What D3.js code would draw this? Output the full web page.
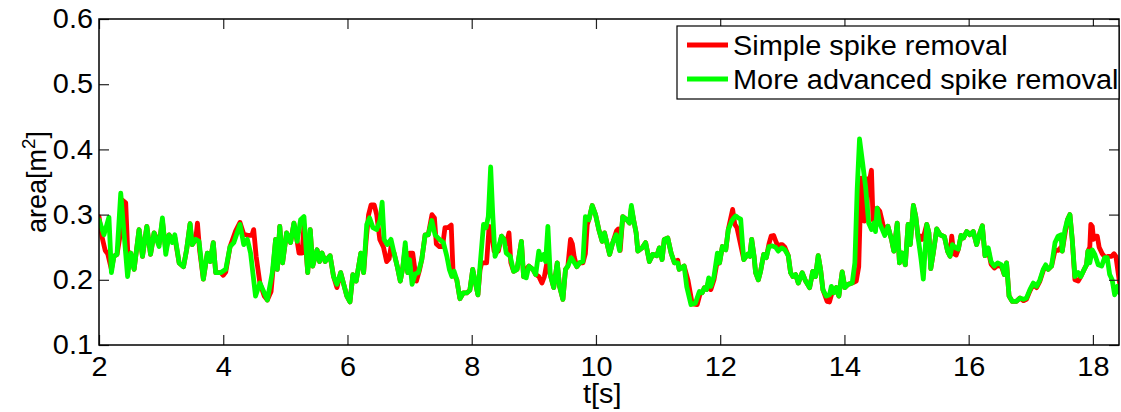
<!DOCTYPE html>
<html><head><meta charset="utf-8">
<script src="https://cdn.jsdelivr.net/npm/d3@7/dist/d3.min.js"></script>
<style>
html,body{margin:0;padding:0;background:#fff;}
svg{display:block;font-family:"Liberation Sans",Arial,Helvetica,sans-serif;}
</style></head>
<body>
<svg id="chart" width="1121" height="412"></svg>
<script>
// ---- data ----
const seriesNames = ["Simple spike removal", "More advanced spike removal"];
const seriesColors = ["#ff0000", "#00ff00"];
const xTicks = [2, 4, 6, 8, 10, 12, 14, 16, 18];
const yTicks = [0.1, 0.2, 0.3, 0.4, 0.5, 0.6];
const xLabel = "t[s]";
const yLabel = "area[m";
const yLabelSup = "2";

// Simple spike removal: [t (s), area (m^2)]
const simpleSeries = [[2.00,0.297],[2.05,0.265],[2.10,0.245],[2.14,0.240],[2.20,0.216],[2.24,0.236],[2.29,0.239],[2.33,0.262],[2.38,0.322],[2.43,0.318],[2.47,0.226],[2.51,0.241],[2.565,0.216],[2.645,0.277],[2.70,0.236],[2.77,0.282],[2.83,0.239],[2.887,0.272],[2.967,0.255],[3.021,0.290],[3.075,0.245],[3.128,0.269],[3.18,0.262],[3.22,0.265],[3.29,0.226],[3.36,0.220],[3.41,0.246],[3.466,0.286],[3.50,0.254],[3.557,0.262],[3.585,0.287],[3.62,0.245],[3.68,0.201],[3.744,0.241],[3.79,0.228],[3.84,0.257],[3.878,0.211],[3.96,0.211],[4.00,0.207],[4.04,0.212],[4.11,0.251],[4.20,0.275],[4.27,0.288],[4.33,0.270],[4.40,0.268],[4.46,0.268],[4.49,0.277],[4.53,0.236],[4.59,0.195],[4.66,0.175],[4.71,0.169],[4.77,0.182],[4.81,0.225],[4.843,0.262],[4.87,0.216],[4.91,0.282],[4.955,0.226],[5.02,0.272],[5.084,0.257],[5.138,0.287],[5.19,0.259],[5.22,0.241],[5.27,0.241],[5.30,0.285],[5.36,0.211],[5.40,0.277],[5.44,0.221],[5.51,0.246],[5.55,0.228],[5.59,0.241],[5.64,0.228],[5.72,0.237],[5.776,0.205],[5.83,0.188],[5.89,0.211],[5.94,0.193],[5.99,0.175],[6.04,0.166],[6.087,0.208],[6.14,0.198],[6.215,0.241],[6.26,0.211],[6.30,0.260],[6.34,0.300],[6.38,0.315],[6.43,0.315],[6.47,0.300],[6.52,0.262],[6.58,0.250],[6.63,0.228],[6.67,0.232],[6.70,0.250],[6.75,0.241],[6.80,0.221],[6.85,0.198],[6.89,0.218],[6.93,0.250],[6.97,0.211],[7.00,0.241],[7.05,0.241],[7.11,0.198],[7.16,0.215],[7.196,0.231],[7.25,0.269],[7.30,0.269],[7.36,0.300],[7.40,0.295],[7.43,0.255],[7.48,0.251],[7.53,0.251],[7.57,0.280],[7.62,0.280],[7.67,0.284],[7.70,0.211],[7.76,0.200],[7.81,0.171],[7.866,0.180],[7.92,0.180],[7.97,0.184],[8.016,0.216],[8.06,0.195],[8.10,0.177],[8.134,0.215],[8.16,0.226],[8.24,0.226],[8.28,0.282],[8.31,0.280],[8.36,0.244],[8.43,0.244],[8.48,0.267],[8.52,0.262],[8.556,0.255],[8.60,0.272],[8.63,0.226],[8.674,0.213],[8.73,0.216],[8.80,0.259],[8.835,0.205],[8.878,0.216],[8.92,0.221],[8.985,0.216],[9.03,0.208],[9.08,0.205],[9.13,0.195],[9.17,0.205],[9.21,0.226],[9.264,0.208],[9.32,0.188],[9.377,0.226],[9.414,0.190],[9.468,0.170],[9.51,0.216],[9.548,0.221],[9.59,0.262],[9.62,0.255],[9.65,0.235],[9.693,0.220],[9.736,0.226],[9.79,0.226],[9.83,0.240],[9.86,0.285],[9.886,0.292],[9.94,0.314],[9.993,0.300],[10.046,0.277],[10.10,0.259],[10.137,0.272],[10.22,0.239],[10.27,0.257],[10.33,0.275],[10.36,0.278],[10.39,0.245],[10.432,0.297],[10.497,0.292],[10.54,0.287],[10.57,0.310],[10.61,0.290],[10.647,0.272],[10.674,0.244],[10.743,0.249],[10.80,0.257],[10.86,0.228],[10.915,0.239],[10.98,0.237],[11.02,0.249],[11.065,0.231],[11.10,0.262],[11.156,0.264],[11.21,0.241],[11.263,0.226],[11.317,0.230],[11.34,0.216],[11.42,0.221],[11.48,0.200],[11.55,0.163],[11.63,0.162],[11.68,0.180],[11.71,0.180],[11.745,0.188],[11.78,0.185],[11.815,0.198],[11.85,0.185],[11.90,0.200],[11.955,0.230],[11.99,0.226],[12.035,0.251],[12.09,0.246],[12.13,0.277],[12.20,0.308],[12.235,0.285],[12.27,0.280],[12.31,0.262],[12.36,0.240],[12.38,0.231],[12.44,0.239],[12.475,0.236],[12.507,0.262],[12.545,0.236],[12.57,0.211],[12.614,0.200],[12.65,0.213],[12.70,0.239],[12.742,0.234],[12.785,0.255],[12.82,0.267],[12.86,0.268],[12.90,0.258],[12.935,0.250],[12.97,0.254],[13.00,0.254],[13.04,0.250],[13.096,0.237],[13.133,0.211],[13.17,0.205],[13.214,0.208],[13.257,0.195],[13.32,0.211],[13.375,0.198],[13.44,0.188],[13.49,0.213],[13.535,0.205],[13.578,0.237],[13.616,0.216],[13.653,0.185],[13.72,0.167],[13.76,0.166],[13.80,0.180],[13.83,0.180],[13.87,0.188],[13.91,0.175],[13.964,0.212],[14.007,0.188],[14.06,0.193],[14.125,0.195],[14.19,0.198],[14.23,0.220],[14.27,0.356],[14.29,0.350],[14.32,0.290],[14.36,0.296],[14.38,0.355],[14.41,0.355],[14.435,0.368],[14.46,0.292],[14.50,0.285],[14.527,0.310],[14.57,0.305],[14.62,0.285],[14.65,0.275],[14.70,0.282],[14.757,0.262],[14.795,0.244],[14.85,0.287],[14.886,0.226],[14.93,0.241],[14.98,0.223],[15.025,0.285],[15.06,0.254],[15.11,0.314],[15.148,0.297],[15.19,0.262],[15.22,0.267],[15.25,0.262],[15.29,0.272],[15.325,0.285],[15.36,0.272],[15.39,0.217],[15.43,0.241],[15.486,0.278],[15.54,0.269],[15.61,0.266],[15.66,0.244],[15.70,0.236],[15.727,0.267],[15.76,0.240],[15.80,0.238],[15.834,0.247],[15.877,0.268],[15.914,0.264],[15.968,0.274],[16.02,0.269],[16.075,0.274],[16.128,0.254],[16.18,0.272],[16.22,0.283],[16.263,0.237],[16.316,0.245],[16.36,0.224],[16.413,0.218],[16.466,0.222],[16.53,0.220],[16.574,0.208],[16.61,0.226],[16.65,0.175],[16.70,0.167],[16.77,0.167],[16.825,0.172],[16.88,0.168],[16.93,0.170],[16.986,0.183],[17.04,0.193],[17.093,0.188],[17.147,0.198],[17.20,0.214],[17.24,0.221],[17.28,0.216],[17.334,0.221],[17.39,0.245],[17.44,0.245],[17.485,0.250],[17.506,0.244],[17.55,0.270],[17.59,0.292],[17.63,0.300],[17.667,0.262],[17.71,0.200],[17.763,0.198],[17.806,0.205],[17.86,0.216],[17.897,0.223],[17.92,0.244],[17.95,0.250],[17.966,0.285],[17.99,0.282],[18.01,0.262],[18.04,0.267],[18.07,0.267],[18.10,0.250],[18.15,0.240],[18.20,0.234],[18.25,0.236],[18.30,0.236],[18.34,0.240],[18.37,0.236],[18.40,0.215],[18.43,0.195]];

// More advanced spike removal: [t (s), area (m^2)]
const advancedSeries = [[2.00,0.292],[2.08,0.269],[2.16,0.296],[2.20,0.211],[2.24,0.236],[2.29,0.239],[2.35,0.333],[2.46,0.205],[2.51,0.241],[2.565,0.216],[2.645,0.277],[2.70,0.236],[2.77,0.282],[2.83,0.239],[2.887,0.272],[2.967,0.251],[3.021,0.295],[3.075,0.239],[3.128,0.269],[3.18,0.257],[3.22,0.269],[3.29,0.226],[3.36,0.220],[3.41,0.246],[3.466,0.286],[3.50,0.254],[3.557,0.262],[3.61,0.259],[3.68,0.201],[3.744,0.241],[3.79,0.228],[3.84,0.257],[3.878,0.211],[3.96,0.211],[4.04,0.216],[4.11,0.251],[4.17,0.257],[4.27,0.285],[4.33,0.254],[4.388,0.262],[4.44,0.241],[4.52,0.175],[4.59,0.195],[4.71,0.169],[4.79,0.211],[4.843,0.262],[4.87,0.216],[4.91,0.282],[4.955,0.226],[5.02,0.272],[5.084,0.257],[5.138,0.287],[5.19,0.259],[5.245,0.292],[5.30,0.297],[5.36,0.211],[5.40,0.277],[5.44,0.221],[5.51,0.246],[5.55,0.228],[5.59,0.241],[5.64,0.228],[5.72,0.237],[5.776,0.205],[5.83,0.193],[5.89,0.211],[5.94,0.193],[5.99,0.175],[6.04,0.166],[6.087,0.208],[6.14,0.198],[6.215,0.241],[6.26,0.211],[6.31,0.285],[6.355,0.295],[6.41,0.280],[6.47,0.277],[6.526,0.292],[6.558,0.319],[6.59,0.262],[6.64,0.254],[6.70,0.262],[6.75,0.241],[6.80,0.221],[6.85,0.198],[6.89,0.218],[6.93,0.257],[6.97,0.211],[7.00,0.231],[7.04,0.193],[7.09,0.209],[7.14,0.211],[7.196,0.231],[7.25,0.269],[7.30,0.269],[7.357,0.291],[7.41,0.269],[7.48,0.262],[7.544,0.257],[7.60,0.236],[7.64,0.216],[7.68,0.205],[7.716,0.213],[7.76,0.200],[7.81,0.171],[7.866,0.180],[7.92,0.180],[7.97,0.184],[8.016,0.216],[8.06,0.195],[8.10,0.177],[8.134,0.221],[8.19,0.285],[8.23,0.280],[8.267,0.297],[8.305,0.373],[8.337,0.303],[8.375,0.236],[8.43,0.249],[8.48,0.267],[8.52,0.262],[8.556,0.241],[8.62,0.236],[8.674,0.213],[8.73,0.216],[8.80,0.259],[8.835,0.205],[8.878,0.203],[8.92,0.221],[8.985,0.216],[9.03,0.208],[9.08,0.244],[9.12,0.231],[9.157,0.239],[9.19,0.228],[9.226,0.282],[9.264,0.208],[9.32,0.188],[9.377,0.226],[9.414,0.190],[9.468,0.170],[9.51,0.216],[9.548,0.221],[9.60,0.234],[9.64,0.228],[9.693,0.220],[9.736,0.226],[9.79,0.228],[9.83,0.297],[9.886,0.292],[9.94,0.314],[9.993,0.300],[10.046,0.277],[10.10,0.259],[10.137,0.272],[10.22,0.239],[10.27,0.257],[10.325,0.269],[10.38,0.245],[10.432,0.297],[10.497,0.292],[10.54,0.287],[10.57,0.314],[10.61,0.290],[10.647,0.272],[10.674,0.244],[10.743,0.249],[10.80,0.257],[10.86,0.228],[10.915,0.239],[10.98,0.237],[11.02,0.249],[11.065,0.231],[11.10,0.262],[11.156,0.264],[11.21,0.241],[11.263,0.226],[11.317,0.226],[11.34,0.216],[11.42,0.221],[11.46,0.190],[11.53,0.162],[11.60,0.164],[11.665,0.182],[11.71,0.180],[11.745,0.188],[11.78,0.185],[11.815,0.203],[11.85,0.190],[11.90,0.205],[11.955,0.241],[11.99,0.226],[12.035,0.251],[12.09,0.246],[12.13,0.277],[12.185,0.290],[12.22,0.295],[12.25,0.298],[12.29,0.295],[12.33,0.293],[12.36,0.254],[12.38,0.231],[12.44,0.239],[12.475,0.236],[12.507,0.262],[12.545,0.236],[12.57,0.211],[12.614,0.200],[12.65,0.213],[12.70,0.239],[12.742,0.234],[12.785,0.251],[12.84,0.252],[12.89,0.250],[12.935,0.244],[12.99,0.249],[13.04,0.246],[13.096,0.237],[13.133,0.211],[13.17,0.205],[13.214,0.208],[13.257,0.195],[13.32,0.211],[13.375,0.198],[13.44,0.188],[13.49,0.213],[13.535,0.205],[13.578,0.237],[13.616,0.216],[13.653,0.185],[13.707,0.175],[13.76,0.177],[13.79,0.190],[13.83,0.180],[13.87,0.188],[13.91,0.175],[13.964,0.212],[14.007,0.188],[14.06,0.193],[14.125,0.195],[14.168,0.226],[14.205,0.338],[14.243,0.416],[14.286,0.384],[14.34,0.343],[14.39,0.287],[14.436,0.277],[14.473,0.287],[14.50,0.274],[14.527,0.310],[14.565,0.287],[14.61,0.277],[14.65,0.268],[14.70,0.282],[14.757,0.262],[14.795,0.244],[14.85,0.287],[14.886,0.226],[14.93,0.241],[14.98,0.223],[15.025,0.285],[15.06,0.254],[15.11,0.314],[15.148,0.297],[15.19,0.262],[15.234,0.231],[15.27,0.201],[15.325,0.285],[15.36,0.272],[15.39,0.217],[15.43,0.241],[15.486,0.278],[15.54,0.269],[15.61,0.266],[15.66,0.244],[15.70,0.236],[15.737,0.254],[15.79,0.249],[15.834,0.247],[15.877,0.268],[15.914,0.264],[15.968,0.274],[16.02,0.269],[16.075,0.274],[16.128,0.254],[16.18,0.272],[16.22,0.283],[16.263,0.237],[16.316,0.249],[16.36,0.228],[16.413,0.221],[16.466,0.226],[16.53,0.223],[16.574,0.208],[16.61,0.226],[16.65,0.175],[16.70,0.167],[16.77,0.167],[16.825,0.172],[16.88,0.170],[16.93,0.172],[16.986,0.185],[17.04,0.195],[17.093,0.190],[17.147,0.200],[17.20,0.216],[17.24,0.223],[17.28,0.216],[17.334,0.221],[17.39,0.257],[17.44,0.267],[17.485,0.269],[17.506,0.244],[17.55,0.277],[17.59,0.292],[17.63,0.300],[17.667,0.262],[17.71,0.205],[17.763,0.211],[17.806,0.205],[17.86,0.216],[17.897,0.223],[17.92,0.244],[17.95,0.226],[17.99,0.246],[18.03,0.239],[18.085,0.223],[18.14,0.221],[18.19,0.234],[18.23,0.234],[18.27,0.208],[18.31,0.200],[18.35,0.177],[18.395,0.190],[18.43,0.180]];

const xDomain = [2, 18.42];
const yDomain = [0.1, 0.6];

// ---- layout ----
const margin = {left: 99, top: 19, right: 2, bottom: 67};
const W = 1121, H = 412;
const iw = W - margin.left - margin.right;
const ih = H - margin.top - margin.bottom;
const fontSize = 27;
const stretch = 1.07; // glyphs in the original are slightly wider than Liberation Sans

const svg = d3.select("#chart");
const g = svg.append("g").attr("transform", `translate(${margin.left},${margin.top})`);

const x = d3.scaleLinear().domain(xDomain).range([0, iw]);
const y = d3.scaleLinear().domain(yDomain).range([ih, 0]);

g.append("rect").attr("width", iw).attr("height", ih).attr("fill", "#fff");

g.append("clipPath").attr("id", "clip").append("rect")
  .attr("x", 0).attr("y", 0).attr("width", iw).attr("height", ih);

const line = d3.line().x(d => x(d[0])).y(d => y(d[1]));

const plot = g.append("g").attr("clip-path", "url(#clip)");
[simpleSeries, advancedSeries].forEach((s, i) => {
  plot.append("path").datum(s)
    .attr("d", line)
    .attr("fill", "none")
    .attr("stroke", seriesColors[i])
    .attr("stroke-width", 4.8)
    .attr("stroke-linejoin", "round")
    .attr("stroke-linecap", "round");
});

// axes (MATLAB-like inward ticks, box on)
const tickLen = 10;
const styleAxis = sel => {
  sel.select(".domain").remove();
  sel.selectAll(".tick line").attr("stroke", "#222").attr("stroke-width", 1.2);
  sel.selectAll(".tick text").attr("fill", "#000").style("font-size", fontSize + "px")
     .style("font-family", '"Liberation Sans", Arial, Helvetica, sans-serif');
};
g.append("g").attr("transform", `translate(0,${ih})`)
  .call(d3.axisBottom(x).tickValues(xTicks).tickFormat(d3.format("d")).tickSizeInner(-tickLen).tickSizeOuter(0).tickPadding(12))
  .call(styleAxis);
g.append("g")
  .call(d3.axisTop(x).tickValues(xTicks).tickFormat("").tickSizeInner(-tickLen).tickSizeOuter(0))
  .call(styleAxis);
g.append("g")
  .call(d3.axisLeft(y).tickValues(yTicks).tickFormat(d3.format(".1f")).tickSizeInner(-tickLen).tickSizeOuter(0).tickPadding(6))
  .call(styleAxis);
g.append("g").attr("transform", `translate(${iw},0)`)
  .call(d3.axisRight(y).tickValues(yTicks).tickFormat("").tickSizeInner(-tickLen).tickSizeOuter(0))
  .call(styleAxis);

g.append("rect").attr("width", iw).attr("height", ih)
  .attr("fill", "none").attr("stroke", "#000").attr("stroke-width", 1.5);

// axis labels
g.append("text").attr("x", x(10.1)).attr("y", ih + 58)
  .attr("text-anchor", "middle").style("font-size", fontSize + "px").text(xLabel);

const yl = svg.append("text")
  .attr("transform", `translate(46,${margin.top + y(0.35)}) rotate(-90)`)
  .attr("text-anchor", "middle").style("font-size", fontSize + "px");
yl.append("tspan").text(yLabel);
yl.append("tspan").attr("dy", -11).style("font-size", (fontSize * 0.7) + "px").text(yLabelSup);
yl.append("tspan").attr("dy", 11).text("]");

// legend
const lg = svg.append("g").attr("transform", "translate(677,26)");
lg.append("rect").attr("width", 442).attr("height", 73)
  .attr("fill", "#fff").attr("stroke", "#000").attr("stroke-width", 1.2);
seriesNames.forEach((name, i) => {
  const cy = 19 + i * 34;
  lg.append("line").attr("x1", 10).attr("x2", 51).attr("y1", cy).attr("y2", cy)
    .attr("stroke", seriesColors[i]).attr("stroke-width", 4.8);
  lg.append("text").attr("x", 56).attr("y", cy + 9.5)
    .style("font-size", fontSize + "px").text(name);
});

// widen all single-run texts slightly to match the original glyph widths
svg.selectAll("text").each(function() {
  if (this.querySelector("tspan")) return;
  const w = this.getComputedTextLength();
  if (w > 0) d3.select(this).attr("textLength", w * stretch).attr("lengthAdjust", "spacingAndGlyphs");
});
</script>
</body></html>
